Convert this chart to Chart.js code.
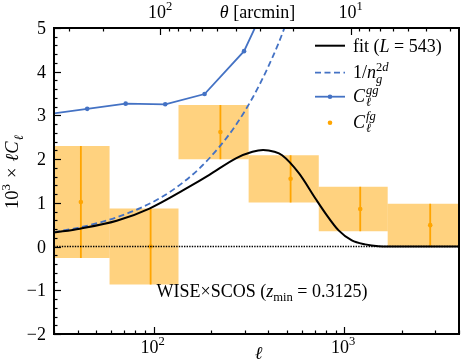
<!DOCTYPE html>
<html>
<head>
<meta charset="utf-8">
<script src="https://cdn.jsdelivr.net/npm/chart.js@4.4.1/dist/chart.umd.min.js"></script>
<style>
  html, body { margin: 0; padding: 0; background: #fff; }
  canvas { display: block; }
</style>
</head>
<body>
<canvas id="chart" width="463" height="361"></canvas>
<script>
// values (y is 10^3 x l C_l)
const binEdges = [25, 58.7, 135, 315, 735, 1690, 4000];
const fgEll = [41.5, 96.4, 224, 523, 1213, 2825];
const fgVal = [1.02, 0.0, 2.62, 1.55, 0.86, 0.49];
const fgErr = [1.28, 0.87, 0.62, 0.54, 0.51, 0.49];

const ggEll = [28, 44.8, 71.3, 115, 185, 298, 480];
const ggVal = [3.03, 3.15, 3.27, 3.255, 3.49, 4.47, 6.4];

const noiseEll = [30, 40, 52, 66, 85, 110, 140, 175, 220, 270, 330, 390, 450, 510];
const noiseVal = [0.33, 0.43, 0.55, 0.69, 0.88, 1.13, 1.44, 1.8, 2.27, 2.78, 3.4, 4.02, 4.63, 5.25];

const fitEll = [30, 41, 64, 95, 154, 196, 270, 330, 375, 430, 472, 578, 706, 797, 934, 1096, 1287, 1511, 2000, 4000];
const fitVal = [0.32, 0.41, 0.59, 0.87, 1.37, 1.64, 2.02, 2.17, 2.21, 2.17, 2.09, 1.68, 1.1, 0.76, 0.37, 0.14, 0.05, 0.01, 0, 0];

// tick labels
const yTicks = [-2, -1, 0, 1, 2, 3, 4, 5];
const ellTicks = [100, 1000];
const ellTickExp = ['2', '3'];
const thetaTicks = [100, 10];
const thetaTickExp = ['2', '1'];

const ORANGE = '#FFA500';
const BOX = 'rgba(255, 165, 0, 0.5)';
const BLUE = '#4472C4';
const SERIF = '"Liberation Serif", "DejaVu Serif", serif';

// tiny mathtext-ish helper: tokens {t, it, pos}, or {stack: [supToks, subToks]}
const T = (t, o = {}) => Object.assign({ t }, o);
function fontFor(tk, size) {
  const s = tk.pos ? size * 0.7 : size;
  return (tk.it ? 'italic ' : '') + s.toFixed(1) + 'px ' + SERIF;
}
function mathWidth(ctx, toks, size) {
  let w = 0;
  for (const tk of toks) {
    if (tk.stack) {
      w += Math.max(mathWidth(ctx, tk.stack[0], size), mathWidth(ctx, tk.stack[1], size));
    } else {
      ctx.font = fontFor(tk, size);
      w += ctx.measureText(tk.t).width + (tk.pad || 0);
    }
  }
  return w;
}
function drawMath(ctx, toks, x, y, size, align) {
  const w = mathWidth(ctx, toks, size);
  if (align === 'center') x -= w / 2;
  else if (align === 'right') x -= w;
  ctx.textAlign = 'left';
  ctx.textBaseline = 'alphabetic';
  for (const tk of toks) {
    if (tk.stack) {
      const a = drawMath(ctx, tk.stack[0], x, y, size, 'left');
      const b = drawMath(ctx, tk.stack[1], x, y, size, 'left');
      x += Math.max(a, b);
    } else {
      ctx.font = fontFor(tk, size);
      const dy = tk.pos === 'sup' ? -0.42 * size : tk.pos === 'sub' ? 0.25 * size : 0;
      ctx.fillText(tk.t, x, y + dy);
      x += ctx.measureText(tk.t).width + (tk.pad || 0);
    }
  }
  return w;
}

// datasets
const datasets = [];

// orange 1-sigma boxes, one polygon per bin
fgEll.forEach((l, i) => {
  const lo = fgVal[i] - fgErr[i], hi = fgVal[i] + fgErr[i];
  datasets.push({
    data: [
      { x: binEdges[i], y: lo }, { x: binEdges[i], y: hi },
      { x: binEdges[i + 1], y: hi }, { x: binEdges[i + 1], y: lo }
    ],
    backgroundColor: BOX, borderWidth: 0, pointRadius: 0,
    fill: 'shape', order: 20
  });
});

// error bars (segments broken by nulls)
const barPts = [];
fgEll.forEach((l, i) => {
  barPts.push({ x: l, y: fgVal[i] - fgErr[i] }, { x: l, y: fgVal[i] + fgErr[i] }, { x: l, y: null });
});
datasets.push({
  data: barPts, borderColor: ORANGE, borderWidth: 1.8,
  pointRadius: 0, spanGaps: false, fill: false, order: 15
});
datasets.push({
  data: fgEll.map((l, i) => ({ x: l, y: fgVal[i] })),
  showLine: false, pointRadius: 2.3, pointBackgroundColor: ORANGE,
  pointBorderWidth: 0, order: 14
});

// zero line
datasets.push({
  data: [{ x: 30, y: 0 }, { x: 4000, y: 0 }],
  borderColor: '#000', borderWidth: 1.6, borderDash: [1.4, 1.2],
  pointRadius: 0, fill: false, order: 12
});

// shot noise 1/n_g
datasets.push({
  data: noiseEll.map((l, i) => ({ x: l, y: noiseVal[i] })),
  borderColor: BLUE, borderWidth: 1.8, borderDash: [6, 3.5],
  cubicInterpolationMode: 'monotone', pointRadius: 0, fill: false, order: 3
});

// fit
datasets.push({
  data: fitEll.map((l, i) => ({ x: l, y: fitVal[i] })),
  borderColor: '#000', borderWidth: 2,
  cubicInterpolationMode: 'monotone', pointRadius: 0, fill: false, order: 2
});

// C_l^gg
datasets.push({
  data: ggEll.map((l, i) => ({ x: l, y: ggVal[i] })),
  borderColor: BLUE, borderWidth: 1.8, tension: 0,
  pointRadius: 2.3, pointBackgroundColor: BLUE, pointBorderWidth: 0,
  fill: false, order: 1
});

const FS = 18;

const framePlugin = {
  id: 'frame',
  afterDatasetsDraw(chart) {
    const { ctx, chartArea: a, scales } = chart;
    const sx = scales.x, st = scales.x2, sy = scales.y;
    ctx.save();
    ctx.strokeStyle = '#000';
    ctx.fillStyle = '#000';

    // inward ticks
    ctx.lineWidth = 1.2;
    const vTick = (px, len, top) => {
      ctx.beginPath();
      if (top) { ctx.moveTo(px, a.top); ctx.lineTo(px, a.top + len); }
      else { ctx.moveTo(px, a.bottom); ctx.lineTo(px, a.bottom - len); }
      ctx.stroke();
    };
    // bottom (l)
    for (let d = 10; d <= 1000; d *= 10) {
      for (let m = 1; m <= 9; m++) {
        const v = d * m;
        if (v < 30 || v > 4000) continue;
        vTick(Math.round(sx.getPixelForValue(v)) + 0.5, m === 1 ? 7 : 3.5, false);
      }
    }
    // top (theta)
    for (let d = 1; d <= 100; d *= 10) {
      for (let m = 1; m <= 9; m++) {
        const v = d * m;
        if (v < 2.7 || v > 360) continue;
        vTick(Math.round(st.getPixelForValue(v)) + 0.5, m === 1 ? 7 : 3.5, true);
      }
    }
    // left (y)
    for (let k = -10; k <= 25; k++) {
      const v = k / 5;
      const py = Math.round(sy.getPixelForValue(v)) + 0.5;
      ctx.beginPath();
      ctx.moveTo(a.left, py);
      ctx.lineTo(a.left + (k % 5 === 0 ? 7 : 3.5), py);
      ctx.stroke();
    }

    // frame
    ctx.lineWidth = 2;
    ctx.strokeRect(a.left, a.top, a.right - a.left, a.bottom - a.top);

    // tick labels
    yTicks.forEach(v => {
      const lab = v < 0 ? '\u2212' + Math.abs(v) : String(v);
      drawMath(ctx, [T(lab)], a.left - 8, sy.getPixelForValue(v) + 6, FS, 'right');
    });
    ellTicks.forEach((v, i) => {
      drawMath(ctx, [T('10'), T(ellTickExp[i], { pos: 'sup' })], sx.getPixelForValue(v) - 1, a.bottom + 19, FS, 'center');
    });
    thetaTicks.forEach((v, i) => {
      drawMath(ctx, [T('10'), T(thetaTickExp[i], { pos: 'sup' })], st.getPixelForValue(v), a.top - 10, FS, 'center');
    });

    // axis titles
    const cx = (a.left + a.right) / 2;
    drawMath(ctx, [T('\u2113', { it: true })], cx + 2, 359, FS, 'center');
    drawMath(ctx, [T('\u03b8', { it: true }), T(' [arcmin]')], cx + 1, a.top - 10, FS, 'center');
    ctx.save();
    ctx.translate(18, 172);
    ctx.rotate(-Math.PI / 2);
    drawMath(ctx, [
      T('10'), T('3', { pos: 'sup', pad: 1.5 }), T(' \u00d7 ', { pad: 1.5 }),
      T('\u2113', { it: true }), T('C', { it: true, pad: 1 }), T('\u2113', { pos: 'sub', it: true })
    ], 0, 0, 18.5, 'center');
    ctx.restore();

    // annotation
    drawMath(ctx, [
      T('WISE\u00d7SCOS ('), T('z', { it: true }), T('min', { pos: 'sub' }), T(' = 0.3125)')
    ], 262, 296.5, FS, 'center');

    // legend
    const lx0 = 315, lx1 = 345, tx = 353;
    const rows = [45.7, 72.7, 96.7, 122.7];
    ctx.lineWidth = 2;
    ctx.strokeStyle = '#000';
    ctx.beginPath(); ctx.moveTo(lx0, rows[0]); ctx.lineTo(lx1, rows[0]); ctx.stroke();
    ctx.strokeStyle = BLUE; ctx.lineWidth = 1.8;
    ctx.setLineDash([6, 3.5]);
    ctx.beginPath(); ctx.moveTo(lx0, rows[1]); ctx.lineTo(lx1, rows[1]); ctx.stroke();
    ctx.setLineDash([]);
    ctx.beginPath(); ctx.moveTo(lx0, rows[2]); ctx.lineTo(lx1, rows[2]); ctx.stroke();
    ctx.fillStyle = BLUE;
    ctx.beginPath(); ctx.arc((lx0 + lx1) / 2, rows[2], 2.3, 0, 2 * Math.PI); ctx.fill();
    ctx.fillStyle = ORANGE;
    ctx.beginPath(); ctx.arc((lx0 + lx1) / 2, rows[3], 2.3, 0, 2 * Math.PI); ctx.fill();

    ctx.fillStyle = '#000';
    drawMath(ctx, [T('fit ('), T('L', { it: true }), T(' = 543)')], tx, rows[0] + 6, FS, 'left');
    drawMath(ctx, [T('1/'), T('n', { it: true }),
      { stack: [[T('2', { pos: 'sup' }), T('d', { pos: 'sup', it: true })], [T('g', { pos: 'sub', it: true })]] }],
      tx, rows[1] + 5.5, FS, 'left');
    drawMath(ctx, [T('C', { it: true, pad: 1 }),
      { stack: [[T('gg', { pos: 'sup', it: true })], [T('\u2113', { pos: 'sub', it: true })]] }],
      tx, rows[2] + 5, FS, 'left');
    drawMath(ctx, [T('C', { it: true, pad: 1 }),
      { stack: [[T('fg', { pos: 'sup', it: true })], [T('\u2113', { pos: 'sub', it: true })]] }],
      tx, rows[3] + 5, FS, 'left');

    ctx.restore();
  }
};

new Chart(document.getElementById('chart').getContext('2d'), {
  type: 'line',
  data: { datasets: datasets.map(d => Object.assign({ xAxisID: 'x', yAxisID: 'y' }, d)) },
  options: {
    responsive: false,
    animation: false,
    devicePixelRatio: 1,
    layout: { padding: { left: 54, right: 2, top: 28, bottom: 27 } },
    plugins: { legend: { display: false }, tooltip: { enabled: false } },
    scales: {
      x: { type: 'logarithmic', min: 30, max: 4000, display: false },
      x2: { type: 'logarithmic', min: 2.7, max: 360, reverse: true, display: false, position: 'top' },
      y: { type: 'linear', min: -2, max: 5, display: false }
    }
  },
  plugins: [framePlugin]
});
</script>
</body>
</html>
